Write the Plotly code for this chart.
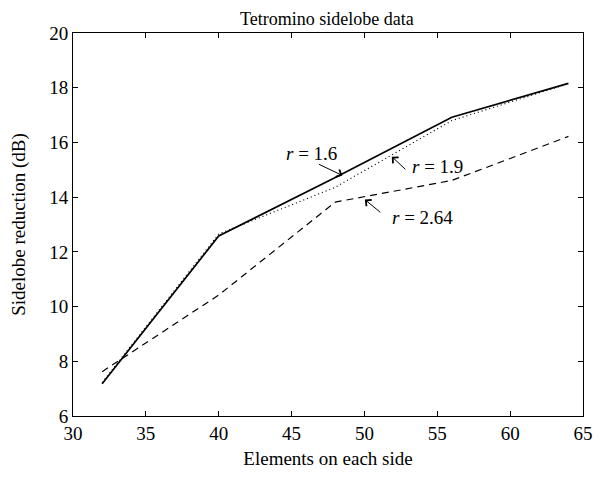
import plotly.graph_objects as go

elements = [32, 40, 48, 56, 64]
r16 = [7.18, 12.58, 14.72, 16.92, 18.16]
r19 = [7.22, 12.65, 14.36, 16.80, 18.15]
r264 = [7.62, 10.42, 13.82, 14.61, 16.22]

title = "Tetromino sidelobe data"
xlabel = "Elements on each side"
ylabel = "Sidelobe reduction (dB)"

FONT = "Liberation Serif"
FS = 19
fig = go.Figure()
fig.add_trace(go.Scatter(x=elements, y=r16, mode="lines",
                         line=dict(color="black", width=1.7, dash="solid"), name="r = 1.6"))
fig.add_trace(go.Scatter(x=elements, y=r19, mode="lines",
                         line=dict(color="black", width=1.2, dash="1px,3px"), name="r = 1.9"))
fig.add_trace(go.Scatter(x=elements, y=r264, mode="lines",
                         line=dict(color="black", width=1.2, dash="7px,5px"), name="r = 2.64"))

# arrows (head at data point, tail offset in pixels)
arrows = [(48.49, 14.79, -25, -12), (51.88, 15.48, 15, 14), (50.03, 13.91, 17, 14)]
for hx, hy, ax, ay in arrows:
    fig.add_annotation(x=hx, y=hy, ax=ax, ay=ay, text="", showarrow=True,
                       arrowhead=4, arrowsize=1.6, arrowwidth=1, arrowcolor="black", standoff=0)

labels = [("<i>r</i> = 1.6", 46.35, 15.60, "center"),
          ("<i>r</i> = 1.9", 53.15, 15.13, "left"),
          ("<i>r</i> = 2.64", 51.75, 13.27, "left")]
for t, x, y, anc in labels:
    fig.add_annotation(x=x, y=y, text=t, showarrow=False, xanchor=anc, yanchor="middle",
                       font=dict(family=FONT, size=FS, color="black"))

axis_common = dict(showline=True, linecolor="black", linewidth=1, mirror="ticks",
                   ticks="inside", ticklen=5, tickcolor="black", showgrid=False, zeroline=False,
                   automargin=False,
                   tickfont=dict(family=FONT, size=FS, color="black"))
fig.update_xaxes(range=[30, 65], dtick=5, tick0=30,
                 title=dict(text=xlabel, font=dict(family=FONT, size=FS, color="black"), standoff=8),
                 **axis_common)
fig.update_yaxes(range=[6, 20], dtick=2, tick0=6,
                 title=dict(text=ylabel, font=dict(family=FONT, size=FS, color="black"), standoff=19),
                 **axis_common)
fig.update_layout(width=611, height=477, showlegend=False,
                  paper_bgcolor="white", plot_bgcolor="white",
                  margin=dict(l=65, r=36, t=25, b=69),
                  title=dict(text=title, x=0.522, xanchor="center", y=0.978, yanchor="middle",
                             font=dict(family=FONT, size=18, color="black")))
fig.write_html("out.html")
